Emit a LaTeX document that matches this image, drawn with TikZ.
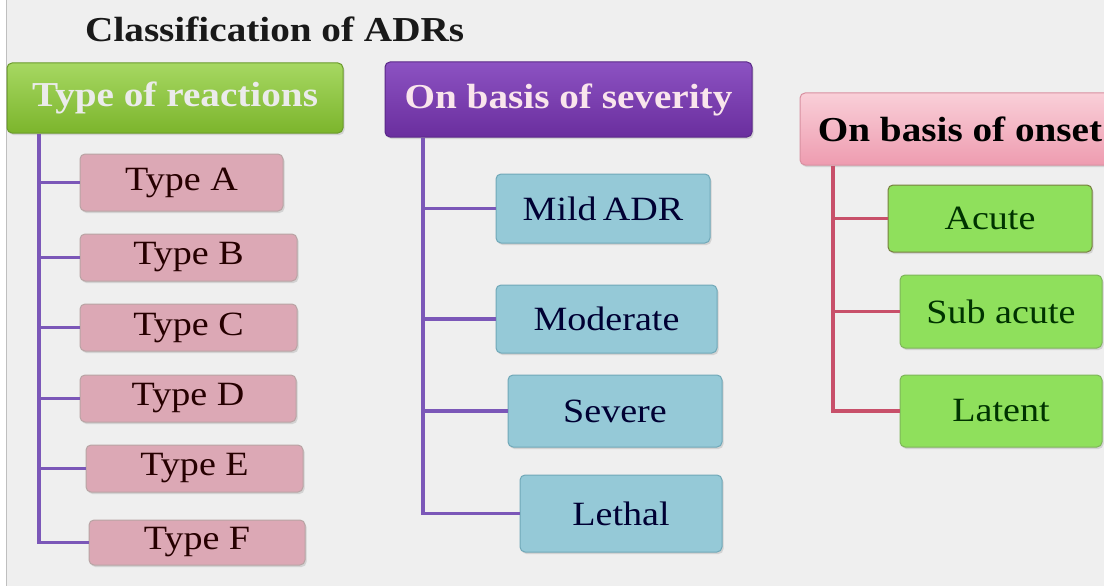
\documentclass[tikz,border=0pt]{standalone}
\usepackage{fontspec}
\usepackage{graphicx}
\setmainfont{LiberationSerif}[Extension=.ttf, UprightFont=*-Regular, BoldFont=*-Bold, ItalicFont=*-Italic, BoldItalicFont=*-BoldItalic]
\newcommand{\sx}[1]{\scalebox{1.12}[1]{#1}}
\usetikzlibrary{shadows}
\definecolor{bg}{HTML}{EFEFEF}
\definecolor{hgreenT}{HTML}{A6D862}
\definecolor{hgreenB}{HTML}{7CB52C}
\definecolor{hgreenD}{HTML}{6A9A2A}
\definecolor{hpurpT}{HTML}{8C52C2}
\definecolor{hpurpB}{HTML}{6A2E9E}
\definecolor{hpurpD}{HTML}{5A2888}
\definecolor{hpinkT}{HTML}{F9CFD8}
\definecolor{hpinkB}{HTML}{EE9CB0}
\definecolor{hpinkD}{HTML}{D890A0}
\definecolor{kpink}{HTML}{DCA8B5}
\definecolor{kpinkD}{HTML}{B8A4A4}
\definecolor{kblue}{HTML}{95C9D7}
\definecolor{kblueD}{HTML}{70A8B8}
\definecolor{kgreen}{HTML}{8FE05C}
\definecolor{kgreenD}{HTML}{7EB55A}
\definecolor{lpurp}{HTML}{7B57B8}
\definecolor{lred}{HTML}{C8506A}
\begin{document}
\begin{tikzpicture}[x=1pt,y=-1pt,
  box/.style={rounded corners=5pt, draw, line width=1pt, inner sep=0pt, align=center,
    drop shadow={shadow xshift=1.5pt,shadow yshift=-2pt,opacity=0.25}},
  hdr/.style={box, font=\fontsize{35}{40}\selectfont\bfseries},
  kid/.style={box, font=\fontsize{34}{40}\selectfont},
  pinkkid/.style={kid, fill=kpink, draw=kpinkD, text=black!85!red},
  bluekid/.style={kid, fill=kblue, draw=kblueD, text=black!80!blue},
  greenkid/.style={kid, fill=kgreen, draw=kgreenD, text=black!80!green},
  pline/.style={draw=lpurp, line width=3.4pt},
  rline/.style={draw=lred, line width=3.4pt}]
\useasboundingbox (0,0) rectangle (1104,586);
\clip (0,0) rectangle (1104,586);
\fill[bg] (0,0) rectangle (1104,586);
\fill[white] (0,0) rectangle (6,586);
\draw[black!25, line width=1pt] (6.5,0) -- (6.5,586);

\node[anchor=base west, inner sep=0pt, font=\fontsize{35}{40}\selectfont\bfseries, text=black!90] (title) at (85,42) {\sx{Classification of ADRs}};

% headers
\node[hdr, top color=hgreenT, bottom color=hgreenB, draw=hgreenD, text=white!92!black,
  minimum width=336, minimum height=70] (h1) at (175,98) {\sx{Type of reactions}};
\node[hdr, top color=hpurpT, bottom color=hpurpB, draw=hpurpD, text=white!90!purple,
  minimum width=367, minimum height=75] (h2) at (568.5,99.5) {\sx{On basis of severity}};
\node[hdr, top color=hpinkT, bottom color=hpinkB, draw=hpinkD, text=black,
  minimum width=320, minimum height=72] (h3) at (960,129) {\sx{On basis of onset}};

% type of reactions
\node[pinkkid, minimum width=203, minimum height=57] (tA) at (181.5,182.5) {\sx{Type A}};
\node[pinkkid, minimum width=217, minimum height=47] (tB) at (188.5,257.5) {\sx{Type B}};
\node[pinkkid, minimum width=217, minimum height=47] (tC) at (188.5,327.5) {\sx{Type C}};
\node[pinkkid, minimum width=216, minimum height=47] (tD) at (188,398.5) {\sx{Type D}};
\node[pinkkid, minimum width=217, minimum height=47] (tE) at (194.5,468.5) {\sx{Type E}};
\node[pinkkid, minimum width=216, minimum height=45] (tF) at (197,542.5) {\sx{Type F}};

% severity
\node[bluekid, minimum width=214, minimum height=69] (m1) at (603,208.5) {\sx{Mild\kern-3pt\ ADR}};
\node[bluekid, minimum width=221, minimum height=68] (m2) at (606.5,319) {\sx{Moderate}};
\node[bluekid, minimum width=214, minimum height=72] (m3) at (615,411) {\sx{Severe}};
\node[bluekid, minimum width=202, minimum height=77] (m4) at (621,513.5) {\sx{Lethal}};

% onset
\node[greenkid, draw=black!30!kgreenD!70!brown, minimum width=204, minimum height=67] (o1) at (990,218.5) {\sx{Acute}};
\node[greenkid, minimum width=202, minimum height=73] (o2) at (1001,311.5) {\sx{Sub acute}};
\node[greenkid, minimum width=202, minimum height=72] (o3) at (1001,411) {\sx{Latent}};

% connectors
\coordinate (v1) at (39,542.5);
\coordinate (v2) at (423,513.5);
\coordinate (v3) at (833,411);
\draw[pline] (h1.south -| v1) -- (v1) -- (tF.west);
\foreach \n in {tA,tB,tC,tD,tE} \draw[pline] (\n.west -| v1) -- (\n.west);
\draw[pline] (h2.south -| v2) -- (v2) -- (m4.west);
\foreach \n in {m1,m2,m3} \draw[pline] (\n.west -| v2) -- (\n.west);
\draw[rline] (h3.south -| v3) -- (v3) -- (o3.west);
\foreach \n in {o1,o2} \draw[rline] (\n.west -| v3) -- (\n.west);
\end{tikzpicture}
\end{document}
